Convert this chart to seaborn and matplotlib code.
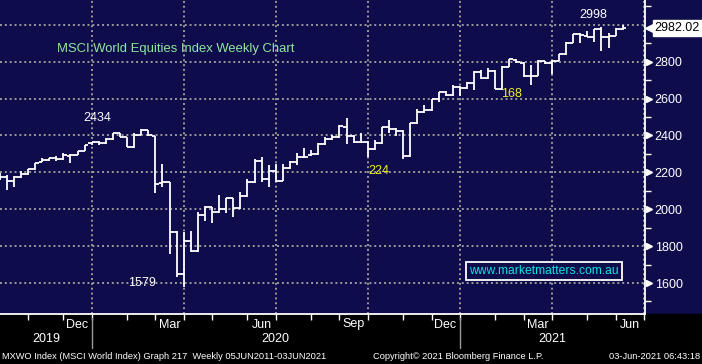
import matplotlib
matplotlib.use("Agg")
import matplotlib.pyplot as plt
import matplotlib.transforms as mtransforms
from matplotlib.patches import Rectangle
import numpy as np
import pandas as pd
import seaborn as sns

# weekly bars (week ending Friday), 27 Sep 2019 .. 4 Jun 2021
week_end = pd.date_range("2019-09-27", "2021-06-04", freq="W-FRI")
axis_weeks = pd.date_range("2019-09-27", "2021-06-25", freq="W-FRI")

opens = [2185, 2174, 2153, 2174, 2191, 2218, 2258, 2265, 2276, 2270, 2288, 2294, 2315,
         2357, 2362, 2357, 2379, 2411, 2391, 2335, 2402, 2427, 2396, 2140, 2146, 1878,
         1649, 1826, 1771, 1967, 2010, 1983, 2001, 2059, 2005, 2070, 2146, 2261, 2162,
         2207, 2153, 2221, 2256, 2285, 2295, 2297, 2352, 2379, 2390, 2448, 2396, 2367,
         2367, 2324, 2357, 2444, 2433, 2426, 2290, 2465, 2525, 2536, 2597, 2633, 2617,
         2664, 2655, 2682, 2745, 2709, 2749, 2650, 2772, 2810, 2794, 2724, 2724, 2805,
         2791, 2805, 2839, 2902, 2950, 2940, 2931, 2975, 2935, 2939, 2975]
highs = [2195, 2185, 2180, 2207, 2220, 2252, 2278, 2278, 2287, 2307, 2300, 2318, 2350,
         2367, 2372, 2385, 2413, 2413, 2393, 2411, 2434, 2429, 2398, 2245, 2148, 1880,
         1878, 1881, 1983, 2017, 2012, 2077, 2061, 2061, 2094, 2164, 2270, 2284, 2240,
         2245, 2245, 2261, 2303, 2330, 2321, 2357, 2393, 2402, 2456, 2493, 2402, 2411,
         2369, 2375, 2447, 2483, 2441, 2430, 2470, 2541, 2565, 2600, 2636, 2640, 2673,
         2669, 2690, 2747, 2754, 2764, 2756, 2775, 2812, 2815, 2797, 2781, 2807, 2805,
         2810, 2843, 2905, 2952, 2955, 2968, 2975, 2990, 2953, 2980, 2998]
lows = [2160, 2102, 2122, 2170, 2188, 2215, 2255, 2262, 2262, 2268, 2250, 2292, 2313,
        2348, 2350, 2355, 2377, 2389, 2335, 2333, 2400, 2396, 2089, 2119, 1757, 1631,
        1579, 1768, 1769, 1938, 1927, 1981, 1978, 1956, 2003, 2068, 2144, 2146, 2119,
        2150, 2151, 2218, 2238, 2280, 2290, 2295, 2350, 2376, 2388, 2356, 2357, 2360,
        2285, 2322, 2355, 2414, 2396, 2270, 2285, 2463, 2520, 2533, 2579, 2615, 2615,
        2614, 2653, 2646, 2705, 2707, 2650, 2648, 2770, 2795, 2718, 2673, 2722, 2785,
        2735, 2803, 2837, 2900, 2900, 2931, 2908, 2859, 2875, 2937, 2973]
closes = [2174, 2153, 2174, 2191, 2218, 2250, 2265, 2276, 2270, 2294, 2294, 2315, 2348,
          2362, 2357, 2379, 2411, 2391, 2335, 2402, 2427, 2402, 2135, 2146, 1878, 1649,
          1826, 1771, 1967, 2010, 1983, 2001, 2059, 2005, 2070, 2146, 2261, 2162, 2207,
          2153, 2221, 2256, 2285, 2285, 2297, 2352, 2379, 2390, 2453, 2396, 2367, 2367,
          2324, 2357, 2444, 2433, 2426, 2290, 2465, 2525, 2536, 2597, 2633, 2617, 2664,
          2655, 2682, 2745, 2709, 2749, 2650, 2772, 2812, 2800, 2724, 2724, 2805, 2791,
          2805, 2839, 2902, 2950, 2944, 2931, 2975, 2935, 2939, 2975, 2982.02]

last_price = 2982.02
price_labels = [1600, 1800, 2000, 2200, 2400, 2600, 2800]
notes_white = [("2434", 13.85, 2496), ("1579", 20.1, 1602), ("2998", 83.9, 3053)]
notes_yellow = [("224", 53.5, 2208), ("168", 72.3, 2624)]

NAVY = "#0e0c4a"
GRID = "#9a9a9a"

sns.set_theme(style="dark", rc={"axes.facecolor": NAVY, "figure.facecolor": NAVY})
plt.rcParams["font.family"] = ["Liberation Sans", "DejaVu Sans"]

fig = plt.figure(figsize=(7.02, 3.64), dpi=100)
fig.add_artist(Rectangle((0, 0), 1, 50 / 364, transform=fig.transFigure,
                         color="black", zorder=-10))
ax = fig.add_axes([0, 50 / 364, 645 / 702, 314 / 364])
ax.set_facecolor(NAVY)

x = np.arange(len(closes))
ax.vlines(x, lows, highs, color="white", lw=1.3, zorder=3)
ax.hlines(opens, x - 0.5, x, color="white", lw=1.3, zorder=3)
ax.hlines(closes, x, x + 0.5, color="white", lw=1.3, zorder=3)

ax.set_xlim(0.05, 91.15)
ax.set_ylim(1432, 3134)

# month-end bars give the ticks, quarter ends get gridlines and labels
month_end = pd.Series(np.arange(len(axis_weeks)), index=axis_weeks)
month_end = month_end.groupby([axis_weeks.year, axis_weeks.month]).max()
month_pos = [p for p in month_end.values if p > 0]
quarter_pos = [p for p in month_pos if axis_weeks[p].month in (3, 6, 9, 12)]

ax.set_xticks(quarter_pos)
ax.set_xticks(month_pos, minor=True)
ax.set_xticklabels([])
ax.tick_params(axis="x", which="both", direction="out", length=4, width=1,
               color="white", bottom=True)

ax.yaxis.tick_right()
ax.set_yticks(price_labels + [3000])
ax.set_yticklabels([str(v) for v in price_labels] + [""])
ax.set_yticks(np.arange(1500, 3200, 200), minor=True)
ax.tick_params(axis="y", which="major", length=0, pad=7, labelcolor="white",
               labelsize=9, right=True)
ax.tick_params(axis="y", which="minor", length=4, width=1, color="white", right=True)

ax.grid(True, which="major", color=GRID, linestyle=(0, (1, 1.5)), linewidth=1.4)
ax.grid(False, which="minor")

for side in ("top", "left"):
    ax.spines[side].set_visible(False)
for side in ("right", "bottom"):
    ax.spines[side].set_visible(True)
    ax.spines[side].set_color("white")
    ax.spines[side].set_linewidth(1.3)

right_tr = mtransforms.blended_transform_factory(ax.transAxes, ax.transData)
tri_tr = right_tr + mtransforms.ScaledTranslation(4 / 100, 0, fig.dpi_scale_trans)
ax.plot(np.ones(len(price_labels)), price_labels, transform=tri_tr, ls="none",
        marker=">", ms=5, color="white", clip_on=False)

# last price tag
tag_tr = mtransforms.blended_transform_factory(fig.transFigure, ax.transData)
ax.text(700 / 702, last_price, "2982.02", transform=tag_tr, ha="right", va="center",
        fontsize=9, color="black", clip_on=False, zorder=6,
        bbox=dict(boxstyle="square,pad=0.18", fc="white", ec="white"))
ax.plot([652 / 702], [last_price], transform=tag_tr, marker="<", ms=10, color="white",
        ls="none", clip_on=False, zorder=5)

# month labels under the axis, year labels and separators below them
lab_tr = mtransforms.blended_transform_factory(ax.transData, fig.transFigure)
names = {3: "Mar", 6: "Jun", 9: "Sep", 12: "Dec"}
for p in quarter_pos:
    ax.text(p - 0.5, 1 - 324.5 / 364, names[axis_weeks[p].month], transform=lab_tr,
            ha="right", va="center", fontsize=9, color="white", clip_on=False)
dec_pos = [p for p in quarter_pos if axis_weeks[p].month == 12]
year_edges = [0.05] + dec_pos + [91.15]
for yr, a, b in zip(["2019", "2020", "2021"], year_edges[:-1], year_edges[1:]):
    ax.text((a + b) / 2, 1 - 339.5 / 364, yr, transform=lab_tr, ha="center",
            va="center", fontsize=9, color="white", clip_on=False)
for p in dec_pos:
    ax.plot([p, p], [1 - 318 / 364, 1 - 348 / 364], transform=lab_tr, color="#9a9a9a",
            lw=1, clip_on=False)

for txt, xx, yy in notes_white:
    ax.text(xx, yy, txt, color="white", fontsize=9, ha="center", va="center", zorder=4)
for txt, xx, yy in notes_yellow:
    ax.text(xx, yy, txt, color="#f0f020", fontsize=9, ha="center", va="center", zorder=4)

ax.text(57 / 645, 1 - 49 / 314, "MSCI World Equities Index Weekly Chart",
        transform=ax.transAxes, color="#8fe89a", fontsize=9.4, ha="left", va="center")
ax.text(544 / 645, 1 - 271 / 314, "www.marketmatters.com.au", transform=ax.transAxes,
        color="#10e0e8", fontsize=8.7, ha="center", va="center", zorder=5,
        bbox=dict(boxstyle="square,pad=0.25", fc=NAVY, ec="white", lw=1.3))

foot_y = 1 - 356.5 / 364
fig.text(2 / 702, foot_y, "MXWO Index (MSCI World Index) Graph 217  Weekly 05JUN2011-03JUN2021",
         color="white", fontsize=6.7, ha="left", va="center")
fig.text(458 / 702, foot_y, "Copyright\u00a9 2021 Bloomberg Finance L.P.", color="white",
         fontsize=6.7, ha="center", va="center")
fig.text(700 / 702, foot_y, "03-Jun-2021 06:43:18", color="white", fontsize=6.7,
         ha="right", va="center")

fig.savefig("out.png", dpi=100, facecolor=NAVY)
